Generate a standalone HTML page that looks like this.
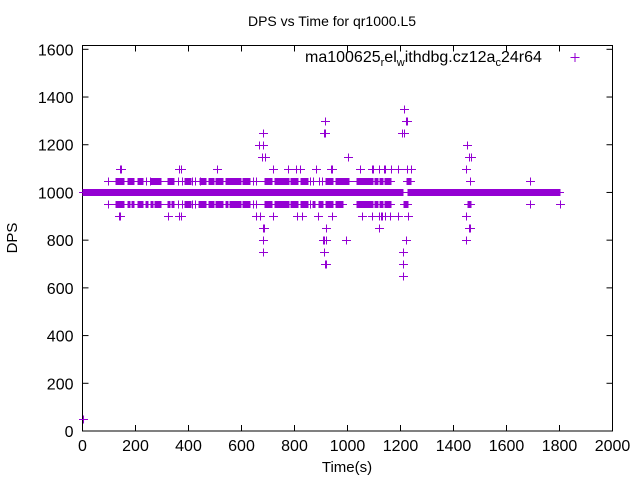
<!DOCTYPE html>
<html><head><meta charset="utf-8"><style>
body{margin:0;background:#fff}
svg{display:block;font-family:"Liberation Sans",sans-serif}
</style></head><body>
<svg id="chart" width="640" height="480" viewBox="0 0 640 480" xmlns="http://www.w3.org/2000/svg">
<rect width="640" height="480" fill="#fff"/>
<text x="332" y="26" font-size="14" text-anchor="middle">DPS vs Time for qr1000.L5</text>
<text x="347" y="472" font-size="15" text-anchor="middle">Time(s)</text>
<text x="17" y="238" font-size="15" text-anchor="middle" transform="rotate(-90 17 238)">DPS</text>
<g id="axes"></g>
<g id="marks"></g>
<text x="305" y="62" font-size="16">ma100625<tspan font-size="11" dy="4">r</tspan><tspan dy="-4">el</tspan><tspan font-size="11" dy="4">w</tspan><tspan dy="-4">ithdbg.cz12a</tspan><tspan font-size="11" dy="4">c</tspan><tspan dy="-4">24r64</tspan></text>
<g stroke="#9400d3" stroke-width="1"><line x1="570.5" y1="57.5" x2="579.5" y2="57.5"/><line x1="575" y1="53" x2="575" y2="62"/></g>
</svg>
<script>
const xTicks=[0,200,400,600,800,1000,1200,1400,1600,1800,2000];
const yTicks=[0,200,400,600,800,1000,1200,1400,1600];
// runs of consecutive samples: [startTime,endTime] at a DPS level
const runs1000=[[0,134],[138,202],[206,364],[368,398],[402,594],[598,677],[681,806],[810,851],[855,919],[923,938],[942,1043],[1047,1107],[1111,1206],[1230,1451],[1455,1685],[1689,1798]];
const runs1050=[[98,98],[125,151],[170,189],[208,226],[238,238],[253,253],[257,294],[321,340],[359,359],[377,377],[385,404],[415,415],[426,426],[442,442],[445,464],[479,491],[502,528],[540,559],[566,593],[604,630],[642,642],[653,653],[687,710],[725,774],[785,811],[823,849],[857,857],[868,868],[891,891],[902,902],[917,943],[955,981],[985,1000],[1034,1057],[1064,1076],[1083,1094],[1102,1113],[1121,1132],[1143,1159],[1223,1234],[1464,1464],[1687,1687]];
const runs950=[[98,98],[125,151],[170,175],[185,189],[208,226],[238,245],[257,264],[275,294],[321,326],[336,340],[359,359],[377,377],[385,404],[415,415],[426,426],[440,464],[479,491],[502,528],[540,546],[555,559],[566,593],[604,630],[642,642],[653,653],[687,710],[725,740],[745,774],[785,811],[823,849],[857,857],[868,875],[891,902],[917,943],[955,960],[968,981],[1034,1057],[1064,1076],[1083,1094],[1102,1113],[1121,1132],[1143,1145],[1150,1159],[1215,1225],[1456,1462],[1687,1687],[1800,1800]];
const pts1350=[1213];
const pts1300=[915,1220,1225];
const pts1250=[682,910,915,1205,1212];
const pts1200=[665,680,1450];
const pts1150=[679,688,1000,1460,1465];
const pts1100=[140,145,366,370,506,717,777,807,822,883,939,943,1049,1091,1098,1117,1136,1143,1166,1192,1223,1238,1449];
const pts900=[138,142,321,366,370,653,668,717,808,830,887,940,1053,1091,1117,1125,1132,1140,1159,1189,1230,1449];
const pts850=[683,686,917,1117,1120,1457,1462];
const pts800=[683,906,912,917,996,1219,1449];
const pts750=[680,910,1208];
const pts700=[914,917,1211];
const pts650=[1211];
const pts50=[0];

const X0=82.5,X1=612.5,Y0=431,Y1=45.5,XMAX=2000,YMAX=1616;
function xs(t){return X0+t*(X1-X0)/XMAX;}
function ys(v){return Y0-v*(Y0-Y1)/YMAX;}
const NS="http://www.w3.org/2000/svg";
const axes=document.getElementById('axes'),marks=document.getElementById('marks');
function mk(tag,attrs,parent){const e=document.createElementNS(NS,tag);for(const k in attrs)e.setAttribute(k,attrs[k]);parent.appendChild(e);return e;}
const frame=mk('rect',{x:X0,y:Y1,width:X1-X0,height:Y0-Y1,fill:'none',stroke:'#000','stroke-width':1},axes);


xTicks.forEach(t=>{const x=xs(t);
 mk('line',{x1:x,y1:Y0,x2:x,y2:Y0-6,stroke:'#000'},axes);
 mk('line',{x1:x,y1:Y1,x2:x,y2:Y1+6,stroke:'#000'},axes);
 const l=mk('text',{x:x,y:Y0+20,'font-size':16,'text-anchor':'middle'},axes);l.textContent=t;
 
 
});
yTicks.forEach(v=>{const y=ys(v);
 mk('line',{x1:X0,y1:y,x2:X0+6,y2:y,stroke:'#000'},axes);
 mk('line',{x1:X1,y1:y,x2:X1-6,y2:y,stroke:'#000'},axes);
 const l=mk('text',{x:X0-9,y:y+6,'font-size':16,'text-anchor':'end'},axes);l.textContent=v;
 
 
});
const C='#9400d3';
function plus(t,v){const x=Math.round(xs(t))+0.5,y=Math.round(ys(v))+0.5;
 const g=mk('g',{stroke:C,'stroke-width':1},marks);
 
 
 mk('line',{x1:x-4.5,y1:y,x2:x+4.5,y2:y},g);mk('line',{x1:x,y1:y-4,x2:x,y2:y+4},g);}
function run(r,v){if(r[0]===r[1]){plus(r[0],v);return;}
 const x1=Math.round(xs(r[0])),x2=Math.round(xs(r[1])),y=Math.round(ys(v));
 const g=mk('g',{fill:C},marks);
 
 
 mk('rect',{x:x1-4,y:y,width:x2-x1+9,height:1},g);
 mk('rect',{x:x1-0.5,y:y-3,width:x2-x1+2,height:7},g);}
runs1000.forEach(r=>run(r,1000));
runs1050.forEach(r=>run(r,1050));
runs950.forEach(r=>run(r,950));
[[pts1350,1350],[pts1300,1300],[pts1250,1250],[pts1200,1200],[pts1150,1150],[pts1100,1100],[pts900,900],[pts850,850],[pts800,800],[pts750,750],[pts700,700],[pts650,650],[pts50,50]].forEach(p=>p[0].forEach(t=>plus(t,p[1])));
</script>
</body></html>
